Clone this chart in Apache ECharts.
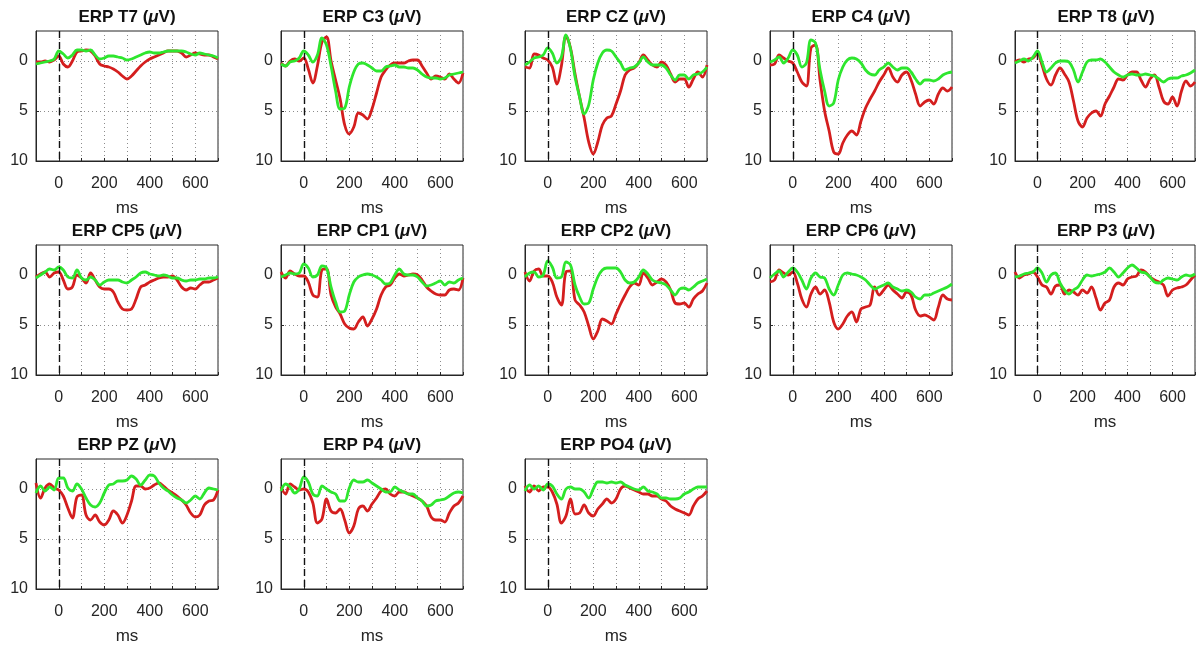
<!DOCTYPE html>
<html><head><meta charset="utf-8">
<script src="https://cdn.jsdelivr.net/npm/echarts@6/dist/echarts.min.js"></script>
<style>html,body{margin:0;padding:0;background:#fff}#c{width:1198px;height:646px}</style>
</head><body><div id="c"></div><script>
// ---- data ----
const times = [-100,-80,-60,-40,-20,0,20,40,60,80,100,120,140,160,180,200,220,240,260,280,300,320,340,360,380,400,420,440,460,480,500,520,540,560,580,600,620,640,660,680,700];
const channels = ['T7','C3','CZ','C4','T8','CP5','CP1','CP2','CP6','P3','PZ','P4','PO4'];
const xTickLabels = [0,200,400,600];
const yTickLabels = [0,5,10];

const redT7 = [0.1,0.1,0.0,0.1,-0.1,-0.5,0.3,0.6,0.0,-0.9,-1.0,-1.1,-1.0,-0.5,0.3,0.5,0.6,0.8,1.1,1.5,1.8,1.5,1.0,0.5,0.1,-0.2,-0.4,-0.6,-0.8,-1.0,-1.0,-1.0,-0.8,-0.4,-0.6,-0.8,-0.7,-0.6,-0.6,-0.4,-0.2];
const greenT7 = [0.3,0.2,0.1,0.0,-0.2,-1.0,-0.7,-0.3,-0.6,-1.1,-1.1,-1.0,-1.1,-0.6,-0.2,-0.3,-0.5,-0.5,-0.4,-0.3,-0.1,-0.2,-0.4,-0.6,-0.8,-0.9,-0.8,-0.8,-0.9,-1.0,-1.0,-1.0,-1.0,-0.9,-0.7,-0.6,-0.8,-0.7,-0.6,-0.5,-0.3];
const redC3 = [0.2,0.5,0.0,-0.2,0.0,-0.3,0.8,2.2,0.5,-1.9,-2.4,0.0,1.9,3.8,6.4,7.3,6.6,5.2,5.4,5.8,4.8,3.2,1.6,0.9,0.4,0.2,0.2,0.2,0.0,-0.1,-0.1,0.5,1.2,1.8,1.5,1.6,1.8,1.3,1.8,2.2,1.2];
const greenC3 = [0.3,0.5,0.1,0.0,-0.3,-1.0,-0.6,0.1,-0.6,-2.3,-1.6,0.5,3.0,4.8,4.7,2.6,1.1,0.3,0.2,0.4,0.7,1.0,1.0,0.6,0.5,0.4,0.6,0.6,0.7,0.7,0.9,1.3,1.6,1.7,1.7,1.8,1.7,1.4,1.3,1.2,1.1];
const redCZ = [0.6,0.7,-0.7,-0.6,-0.3,-0.1,0.6,2.3,0.5,-2.5,-1.3,1.3,3.6,5.7,8.1,9.3,8.1,6.4,5.7,5.5,4.3,3.0,1.4,0.9,0.7,0.2,-0.6,-0.1,0.4,0.6,0.1,0.4,1.3,2.1,1.8,1.8,2.6,1.8,1.1,1.6,0.4];
const greenCZ = [0.4,0.1,-0.3,-0.4,-0.6,-1.3,-0.8,0.2,-0.4,-2.6,-1.2,1.6,3.6,5.3,4.4,1.9,0.2,-0.8,-1.1,-1.0,-0.4,0.2,0.9,0.7,0.6,0.2,-0.4,0.1,0.4,0.4,0.4,0.7,1.4,1.9,1.4,1.4,1.8,1.4,1.3,1.1,0.6];
const redC4 = [0.4,0.3,-0.6,-0.3,0.0,0.2,1.1,2.1,2.5,-1.3,-1.6,1.9,5.0,7.0,9.1,9.3,8.2,7.4,7.0,7.4,6.0,4.7,3.8,3.0,2.1,1.4,0.7,1.6,2.1,1.4,1.1,1.9,3.3,4.5,4.1,3.9,4.3,3.3,2.7,3.0,2.6];
const greenC4 = [0.1,-0.1,-0.4,0.2,-0.3,-1.1,-0.6,0.6,0.2,-2.1,-1.8,0.9,3.0,4.5,4.2,1.9,0.6,-0.1,-0.3,-0.2,0.2,0.9,1.3,1.4,0.9,0.6,0.2,0.6,0.9,0.7,0.7,1.1,1.8,2.3,1.9,1.9,2.0,1.8,1.4,1.2,1.1];
const redT8 = [0.1,-0.1,0.1,-0.2,-0.3,-0.8,0.4,1.8,2.4,1.4,0.7,1.3,2.1,4.0,6.0,6.6,5.7,5.2,5.0,5.5,4.3,3.5,2.6,1.8,1.9,1.4,1.1,1.1,1.9,2.6,1.8,1.4,2.6,4.0,4.3,3.6,4.5,3.0,2.0,2.5,2.1];
const greenT8 = [0.2,0.0,-0.2,0.0,-0.4,-1.0,0.1,1.1,0.7,0.2,0.0,0.0,0.1,0.9,2.1,1.1,0.1,-0.1,-0.1,-0.2,0.1,0.6,1.1,1.4,1.6,1.4,1.3,1.4,1.4,1.3,1.4,1.5,1.8,2.1,1.8,1.7,1.7,1.5,1.4,1.2,0.9];
const redCP5 = [0.2,-0.1,-0.3,0.2,-0.2,-0.3,0.5,1.4,1.2,0.0,0.3,0.8,-0.2,0.5,1.2,1.4,1.4,1.7,2.7,3.4,3.5,3.4,2.4,1.2,1.0,0.7,0.5,0.3,0.2,0.2,0.1,0.5,1.2,1.5,1.3,1.4,1.0,0.7,0.7,0.5,0.3];
const greenCP5 = [0.3,0.0,-0.3,-0.6,-0.5,-0.8,-0.5,0.2,0.3,-0.5,0.3,0.5,0.2,0.5,1.0,0.7,0.5,0.5,0.5,0.7,0.8,0.5,0.2,-0.2,-0.3,-0.1,0.0,0.1,0.0,0.1,0.3,0.3,0.5,0.6,0.5,0.5,0.4,0.4,0.3,0.3,0.2];
const redCP1 = [-0.3,0.3,-0.4,-0.1,0.1,0.1,0.7,2.0,2.2,-0.5,-0.6,2.0,3.2,3.9,4.9,5.3,5.4,4.7,4.2,5.1,4.4,3.4,2.0,1.2,1.0,0.3,-0.1,0.1,0.0,-0.1,0.0,0.5,1.2,1.6,1.9,2.0,2.0,1.5,1.4,1.5,0.3];
const greenCP1 = [0.2,0.0,-0.2,-0.1,-0.2,-1.1,-0.7,0.2,0.0,-0.9,-0.7,1.2,2.7,3.7,3.6,2.0,0.7,0.2,0.0,-0.1,0.0,0.2,0.5,0.9,0.8,0.0,-0.6,-0.1,0.0,0.0,0.2,0.7,1.1,1.0,0.8,0.6,1.0,0.7,0.8,0.5,0.3];
const redCP2 = [-0.3,0.6,-0.4,-0.6,0.1,0.1,0.7,2.2,3.0,-0.3,-0.4,2.5,3.0,3.7,5.1,6.4,5.6,4.4,4.6,4.9,3.9,2.9,2.0,1.2,0.8,1.0,-0.2,0.3,1.0,0.7,0.4,0.7,1.5,2.8,2.9,2.8,3.2,2.4,1.9,1.6,0.8];
const greenCP2 = [0.2,-0.2,-0.3,0.2,0.0,-1.4,-0.8,0.3,0.2,-1.3,-1.0,1.0,2.2,2.9,2.8,1.4,0.2,-0.5,-0.7,-0.7,-0.7,-0.3,0.5,0.8,0.7,0.2,-0.5,-0.1,0.5,0.7,0.8,1.0,1.5,2.0,1.4,1.3,1.5,1.2,0.8,0.6,0.4];
const redCP6 = [0.7,0.5,-0.5,-0.2,0.0,-0.3,0.8,2.4,3.2,1.9,1.2,1.9,1.5,2.7,4.7,5.4,4.9,4.1,3.7,4.7,3.4,3.2,3.0,1.2,2.0,1.5,1.0,1.5,1.9,2.3,1.7,2.0,3.5,4.1,4.0,4.2,4.5,3.2,2.0,2.4,2.5];
const greenCP6 = [0.3,-0.1,-0.4,0.2,-0.3,-0.7,-0.3,0.5,1.4,0.3,-0.2,0.2,0.3,1.4,2.0,1.0,0.0,-0.2,-0.1,0.0,0.2,0.5,1.0,1.4,1.2,1.0,0.8,1.2,1.4,1.6,1.5,1.7,2.2,2.4,2.0,2.0,1.8,1.6,1.4,1.2,0.9];
const redP3 = [-0.3,0.3,0.0,-0.1,-0.3,0.2,1.0,1.2,1.9,1.1,1.0,1.9,1.5,1.7,2.0,1.5,1.8,1.2,2.3,3.5,2.8,2.5,1.2,0.8,1.0,0.4,0.2,0.1,-0.5,-0.3,0.2,0.5,0.7,1.0,2.1,1.5,1.3,1.2,1.0,0.5,0.0];
const greenP3 = [0.2,0.1,-0.1,-0.2,-0.3,-0.7,-0.2,0.7,0.0,-0.2,0.8,1.5,1.9,1.5,1.2,0.5,0.0,0.1,0.0,-0.1,-0.3,-0.7,-0.3,0.2,-0.2,-0.7,-1.0,-0.7,-0.3,-0.2,0.2,0.7,0.8,0.5,0.3,0.4,0.5,0.2,0.0,0.1,-0.1];
const redPZ = [-0.6,0.9,-0.1,-0.5,-0.1,0.1,0.7,1.9,2.9,0.8,0.6,2.6,3.1,2.6,3.3,3.6,3.1,2.2,2.6,3.4,2.6,1.2,-0.3,-0.3,0.0,-0.1,-0.4,-0.6,-0.3,0.1,0.4,0.7,1.1,1.6,2.4,2.8,2.6,1.6,1.2,1.1,0.1];
const greenPZ = [0.4,-0.3,0.2,-0.2,0.1,-1.1,-1.1,-0.1,0.2,-0.5,0.0,0.9,1.6,1.8,1.4,0.4,-0.4,-0.5,-0.8,-0.8,-0.9,-1.3,-1.0,-0.4,-0.9,-1.4,-1.3,-0.6,-0.1,0.2,0.6,0.9,1.1,1.4,1.1,0.7,1.0,0.4,-0.1,0.0,0.1];
const redP4 = [-0.2,0.5,-0.5,-0.2,0.1,0.0,0.3,1.4,3.4,3.0,1.0,2.2,2.4,2.0,3.1,4.4,3.7,2.0,1.7,2.2,1.5,0.9,0.2,0.0,0.5,0.7,0.3,0.3,0.5,0.7,0.9,1.2,1.7,2.8,3.1,3.1,3.3,2.4,1.7,1.4,0.7];
const greenP4 = [0.2,-0.5,-0.2,0.4,0.0,-1.2,-0.7,0.5,0.7,-0.3,0.0,0.3,0.5,1.2,1.2,-0.1,-0.9,-0.7,-0.7,-0.9,-0.6,-0.3,0.0,0.3,0.3,-0.2,0.1,0.3,0.5,0.5,0.9,1.2,1.7,1.6,1.2,1.1,1.0,0.7,0.4,0.3,0.4];
const redPO4 = [-0.3,0.3,-0.3,0.2,-0.2,-0.2,0.3,1.5,3.4,2.7,1.0,2.5,2.4,1.6,2.4,2.7,2.0,1.5,1.0,1.4,1.0,0.0,-0.3,-0.1,0.1,0.3,0.5,0.5,0.7,0.7,1.0,1.2,1.7,2.0,2.2,2.4,2.6,1.7,1.0,0.7,0.2];
const greenPO4 = [0.2,-0.4,0.0,-0.3,0.1,-0.5,-0.3,0.5,1.0,0.0,-0.2,0.0,0.0,0.3,0.9,0.0,-0.7,-0.7,-0.6,-0.7,-0.6,-0.7,-0.4,-0.2,0.0,0.1,-0.2,0.2,0.3,0.5,0.9,0.9,1.0,1.0,0.9,0.5,0.3,0.0,-0.2,-0.2,-0.2];

const redData = [redT7,redC3,redCZ,redC4,redT8,redCP5,redCP1,redCP2,redCP6,redP3,redPZ,redP4,redPO4];
const greenData = [greenT7,greenC3,greenCZ,greenC4,greenT8,greenCP5,greenCP1,greenCP2,greenCP6,greenP3,greenPZ,greenP4,greenPO4];

// ---- layout / style ----
const FONT = '"Liberation Sans", Arial, Helvetica, sans-serif';
const colLeft = [36, 281, 525, 770, 1015];
const rowTop = [31, 245, 459];
const W = 182, H = 130;
const AX = '#262626';
const GRIDC = '#8c8c8c';
const RED = '#d41e1e', GREEN = '#2ee62e';

const grids = [], xAxes = [], yAxes = [], series = [], titles = [];
channels.forEach((ch, i) => {
  const r = Math.floor(i / 5), c = i % 5;
  const left = colLeft[c], top = rowTop[r];
  grids.push({left: left, top: top, width: W, height: H, show: true, borderColor: AX, borderWidth: 1, containLabel: false});
  xAxes.push({
    gridIndex: i, type: 'value', min: -100, max: 700, interval: 100,
    axisLine: {show: true, onZero: false, lineStyle: {color: AX, width: 1}},
    axisTick: {show: true, inside: true, length: 3, lineStyle: {color: AX}},
    axisLabel: {margin: 15, fontSize: 16, color: AX, fontFamily: FONT,
      formatter: v => xTickLabels.indexOf(v) >= 0 ? String(v) : ''},
    splitLine: {show: true, lineStyle: {type: [1, 3], color: GRIDC, width: 1}},
    name: 'ms', nameLocation: 'middle', nameGap: 39,
    nameTextStyle: {fontSize: 17, color: AX, fontFamily: FONT}
  });
  yAxes.push({
    gridIndex: i, type: 'value', inverse: true, min: -3, max: 10,
    axisLine: {show: true, onZero: false, lineStyle: {color: AX, width: 1}},
    axisTick: {show: true, inside: true, length: 3, customValues: yTickLabels, lineStyle: {color: AX}},
    axisLabel: {customValues: yTickLabels, margin: 8, fontSize: 16, color: AX, fontFamily: FONT},
    splitLine: {show: true, lineStyle: {type: [1, 3], color: GRIDC, width: 1}}
  });
  series.push({
    type: 'line', xAxisIndex: i, yAxisIndex: i, name: 'red' + ch,
    data: times.map((t, k) => [t, redData[i][k]]),
    showSymbol: false, symbol: 'none', smooth: 0.35,
    lineStyle: {color: RED, width: 2.8}, itemStyle: {color: RED},
    markLine: {silent: true, symbol: 'none', label: {show: false},
      lineStyle: {type: [7, 4], color: '#111', width: 1.4}, data: [{xAxis: 0}]},
    z: 3
  });
  series.push({
    type: 'line', xAxisIndex: i, yAxisIndex: i, name: 'green' + ch,
    data: times.map((t, k) => [t, greenData[i][k]]),
    showSymbol: false, symbol: 'none', smooth: 0.35,
    lineStyle: {color: GREEN, width: 2.8}, itemStyle: {color: GREEN},
    z: 4
  });
  titles.push({
    text: 'ERP ' + ch + ' ({mu|μ}V)',
    left: left + W / 2, top: top - 22, textAlign: 'center', padding: 0,
    textStyle: {fontSize: 17, fontWeight: 'bold', color: '#111', fontFamily: FONT,
      rich: {mu: {fontSize: 17, fontStyle: 'italic', fontWeight: 'bold', color: '#111', fontFamily: FONT}}}
  });
});

const chart = echarts.init(document.getElementById('c'), null, {renderer: 'canvas'});
chart.setOption({
  animation: false,
  backgroundColor: '#fff',
  title: titles,
  grid: grids,
  xAxis: xAxes,
  yAxis: yAxes,
  series: series
});
</script></body></html>
